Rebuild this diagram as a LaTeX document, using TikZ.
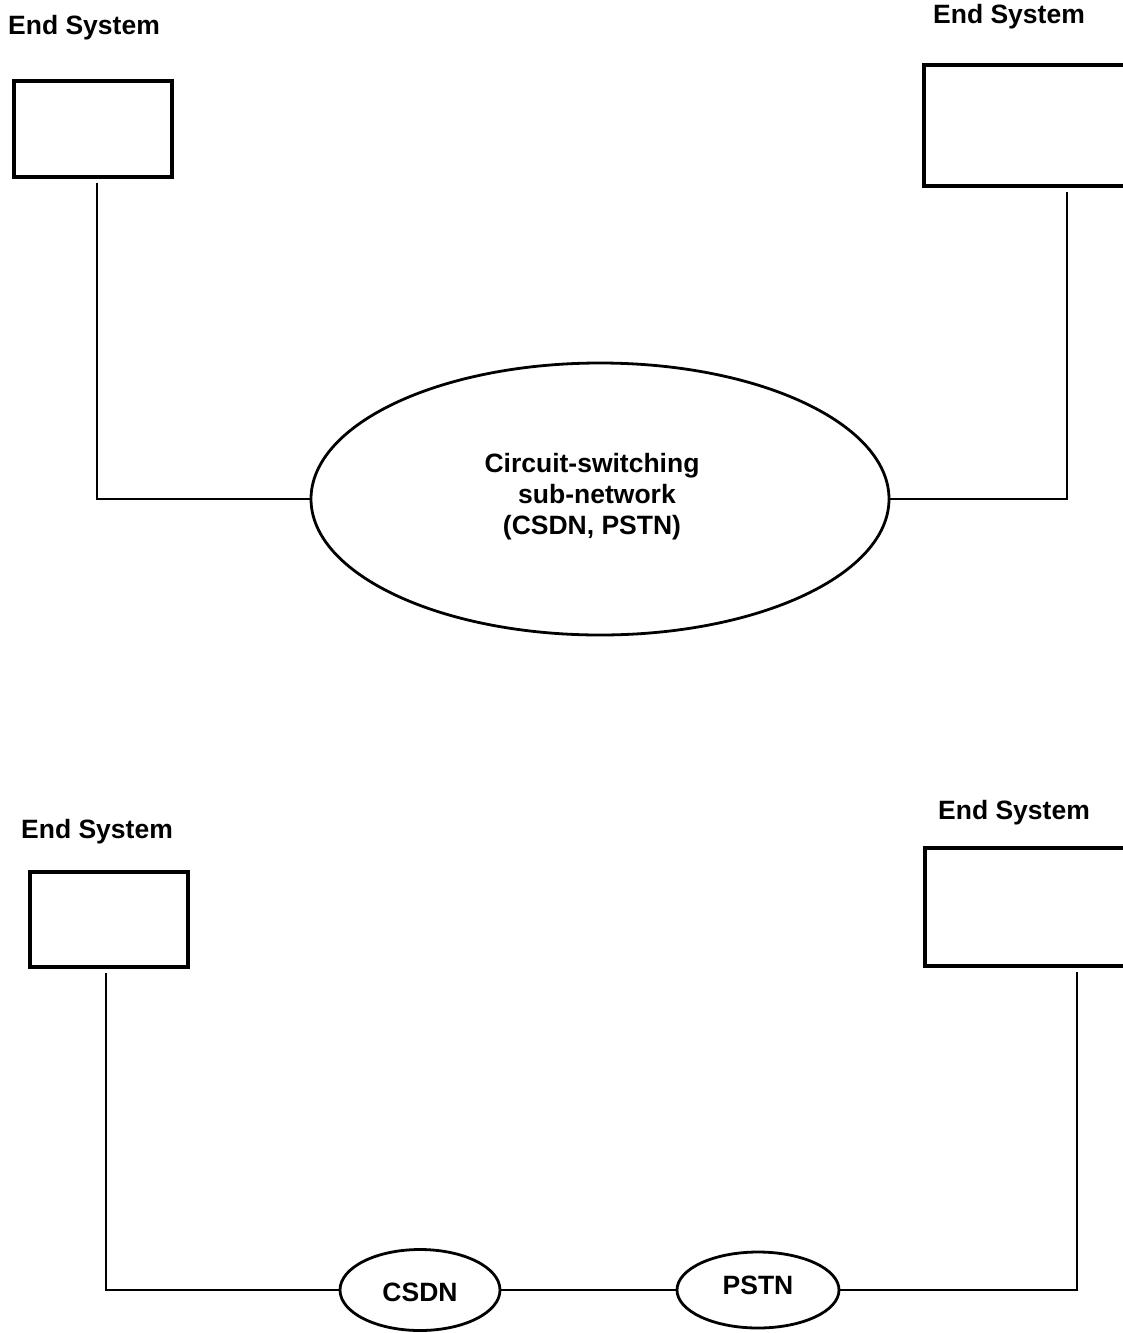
\documentclass[tikz,border=0pt]{standalone}
\usepackage{fontspec}
\setmainfont{Liberation Sans}
\usetikzlibrary{shapes.geometric}
\begin{document}
\begin{tikzpicture}[x=1pt,y=-1pt,
  lbl/.style={font=\fontsize{26.5}{31}\selectfont\bfseries, inner sep=0pt},
  esbox/.style={draw, line width=3.5pt, inner sep=0pt},
  net/.style={draw, ellipse, line width=2.8pt, inner sep=0pt},
  wire/.style={line width=2.6pt}]
\useasboundingbox (0,0) rectangle (1122,1333);
% top labels and boxes
\node[lbl] (ltl) at (84,28) {End System};
\node[lbl] (ltr) at (1009,17) {End System};
\node[esbox, minimum width=158pt, minimum height=96pt] (tl) at (93,129) {};
\node[esbox, minimum width=206pt, minimum height=121pt] (tr) at (1027,125.5) {};
\node[net, minimum width=578pt, minimum height=272pt] (cs) at (600,499) {};
\node[lbl, align=center] (cst) at (592,497) {Circuit-switching\\ \hspace*{10pt}sub-network\\(CSDN, PSTN)};
\draw[wire] ([xshift=4pt,yshift=-4pt]tl.south) |- (cs.west);
\draw[wire] ([xshift=40pt,yshift=-4pt]tr.south) |- (cs.east);
% bottom labels and boxes
\node[lbl] (lbl) at (97,832) {End System};
\node[lbl] (lbr) at (1014,813) {End System};
\node[esbox, minimum width=158pt, minimum height=95pt] (bl) at (109,919.5) {};
\node[esbox, minimum width=206pt, minimum height=118pt] (br) at (1028,907) {};
\node[net, minimum width=160pt, minimum height=81pt] (csdn) at (420,1290) {};
\node[lbl] (csdnt) at (420,1292) {CSDN};
\node[net, minimum width=162pt, minimum height=76pt] (pstn) at (758,1290) {};
\node[lbl] (pstnt) at (758,1285) {PSTN};
\draw[wire] ([xshift=-3pt,yshift=-4pt]bl.south) |- (csdn.west);
\draw[wire] (csdn.east) -- (pstn.west);
\draw[wire] (pstn.east) -| ([xshift=49pt,yshift=-4pt]br.south);
\end{tikzpicture}
\end{document}
